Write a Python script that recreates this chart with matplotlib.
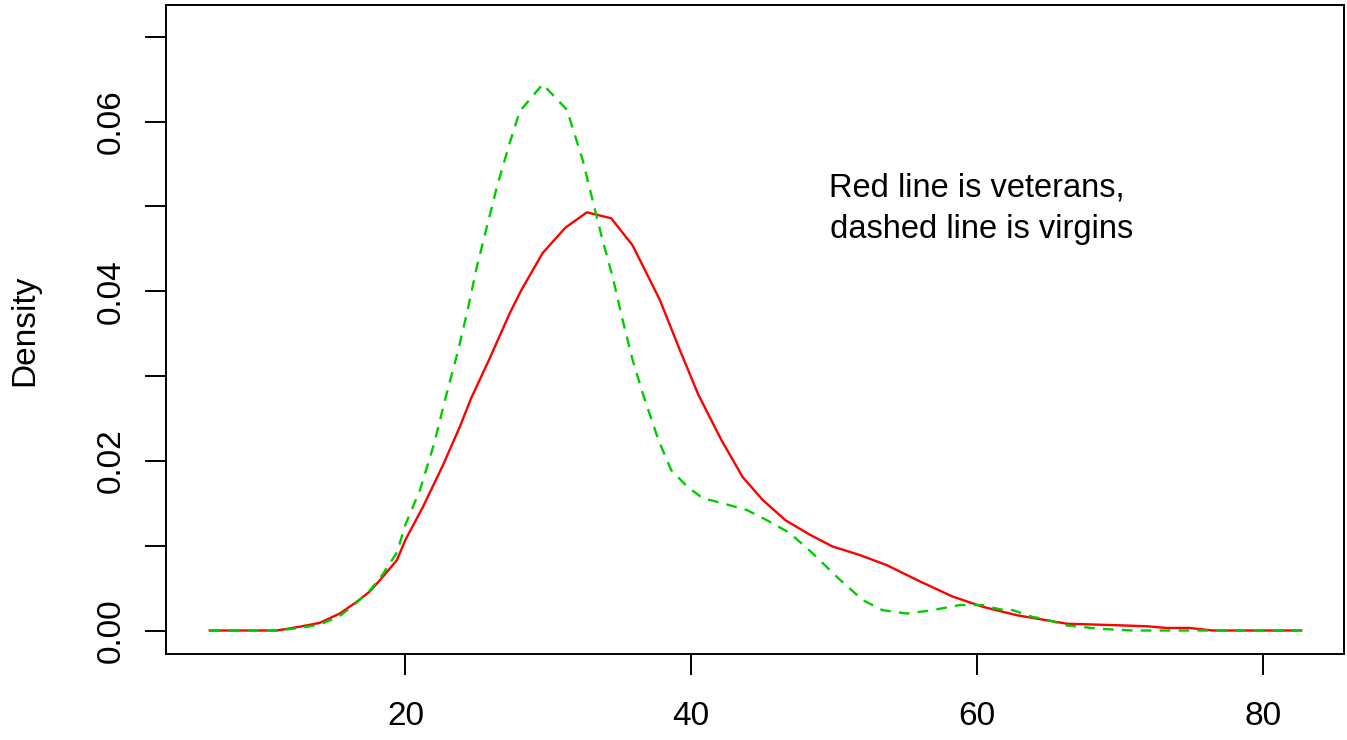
import matplotlib
matplotlib.use('Agg')
from matplotlib import pyplot as plt

plt.rcParams['font.family'] = ['Liberation Sans', 'DejaVu Sans']

# density of veterans (solid red)
vet_x = [6.3, 11.0, 12.6, 14.0, 15.4, 16.6, 17.5, 18.4, 19.4, 20.0, 21.2, 22.6,
         23.8, 24.6, 25.9, 27.3, 28.1, 29.6, 31.2, 32.7, 34.4, 35.9, 37.8, 39.2,
         40.5, 42.1, 43.6, 45.0, 46.6, 48.3, 49.9, 51.8, 53.7, 56.0, 58.3, 60.4,
         62.8, 64.9, 66.3, 70.2, 71.9, 73.3, 74.9, 76.5, 82.7]
vet_y = [0.0, 0.0, 0.00045, 0.0009, 0.0020, 0.0034, 0.0046, 0.0063, 0.0083, 0.0107,
         0.0145, 0.0194, 0.0240, 0.0274, 0.0321, 0.0374, 0.0401, 0.0445, 0.0475,
         0.0493, 0.0486, 0.0454, 0.0390, 0.0331, 0.0278, 0.0225, 0.0181, 0.0154,
         0.0130, 0.0113, 0.0099, 0.0089, 0.0077, 0.0058, 0.0040, 0.0028, 0.0018,
         0.0012, 0.0008, 0.0006, 0.0005, 0.0003, 0.0003, 0.0, 0.0]

# density of virgins (dashed green)
vir_x = [6.3, 11.0, 12.6, 14.0, 15.4, 16.6, 17.5, 18.4, 19.4, 20.0, 21.0, 22.0,
         22.8, 23.7, 24.3, 25.0, 25.7, 26.4, 27.3, 28.0, 29.6, 31.3, 32.4, 33.1,
         33.8, 34.5, 35.2, 35.9, 36.6, 37.7, 38.6, 39.7, 40.8, 42.2, 43.9, 45.3,
         46.9, 48.5, 50.4, 52.0, 53.4, 55.1, 56.9, 58.8, 60.4, 61.6, 62.5, 63.9,
         64.6, 66.3, 68.6, 70.9, 82.7]
vir_y = [0.0, 0.0, 0.0003, 0.0007, 0.0017, 0.0033, 0.0047, 0.0066, 0.0092, 0.0125,
         0.0165, 0.0220, 0.0274, 0.0331, 0.0374, 0.0429, 0.0476, 0.0523, 0.0575,
         0.0612, 0.0644, 0.0614, 0.0555, 0.0507, 0.0460, 0.0417, 0.0366, 0.0319,
         0.0280, 0.0225, 0.0189, 0.0170, 0.0156, 0.0150, 0.0142, 0.0130, 0.0115,
         0.0091, 0.0060, 0.0036, 0.0024, 0.0020, 0.0024, 0.0030, 0.0030, 0.0025,
         0.0024, 0.0016, 0.0014, 0.0006, 0.0002, 0.0, 0.0]

x_ticks = [20, 40, 60, 80]
y_ticks = [0.00, 0.01, 0.02, 0.03, 0.04, 0.05, 0.06, 0.07]
y_labels = ['0.00', '', '0.02', '', '0.04', '', '0.06', '']

fig = plt.figure(figsize=(13.47, 7.40), dpi=100)
ax = fig.add_axes([165.5 / 1347, 1 - 654 / 740, (1344 - 165.5) / 1347, (654 - 5) / 740])

ax.plot(vet_x, vet_y, color='#FF0000', lw=1.7)
ax.plot(vir_x, vir_y, color='#00CD00', lw=1.7, dashes=(4.5, 3.5))

ax.set_xlim(3.2, 85.7)
ax.set_ylim(-0.00277, 0.07374)
ax.set_xticks(x_ticks)
ax.set_yticks(y_ticks)
ax.set_yticklabels(y_labels, rotation=90, va='center')
ax.tick_params(axis='both', length=15, width=1.4, labelsize=24, direction='out')
ax.tick_params(axis='x', pad=19)
ax.tick_params(axis='y', pad=13)
for s in ax.spines.values():
    s.set_linewidth(1.4)

ax.text(60, 0.0497, 'Red line is veterans,\n dashed line is virgins',
        ha='center', va='center', multialignment='center', fontsize=23.5,
        linespacing=1.45)

fig.text(25 / 1347, 1 - 330 / 740, 'Density', rotation=90, ha='center',
         va='center', fontsize=24)

fig.savefig('out.png', dpi=100)
